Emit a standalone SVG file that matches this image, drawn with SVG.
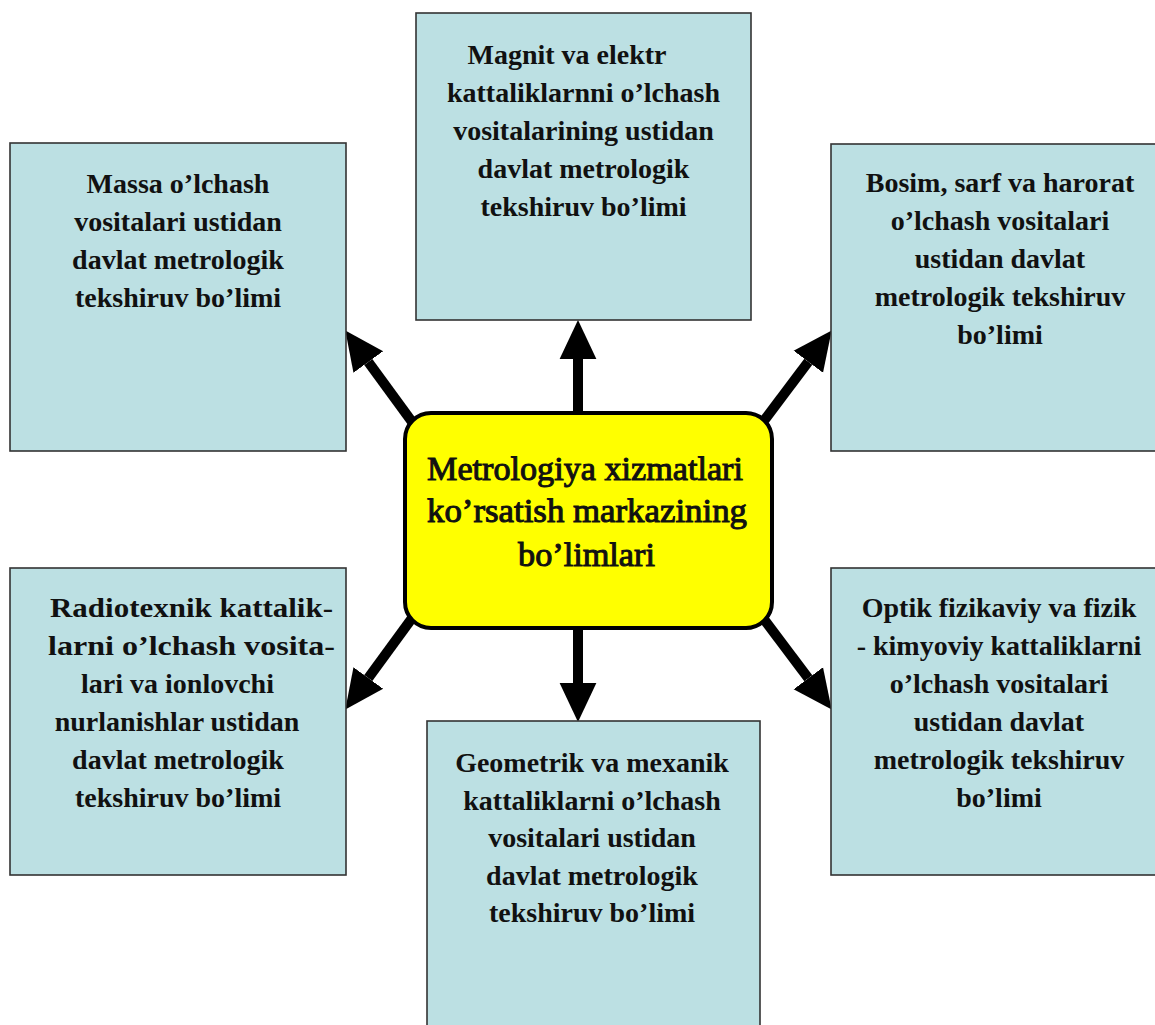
<svg xmlns="http://www.w3.org/2000/svg" width="1155" height="1025" viewBox="0 0 1155 1025">
<style>
.box{fill:#BCE0E3;stroke:#333;stroke-width:1.6}
.bt{font-family:"Liberation Serif","Times New Roman",serif;font-weight:bold;font-size:28px;fill:#111;text-anchor:middle}
.ct{font-family:"Liberation Serif","Times New Roman",serif;font-weight:normal;font-size:33px;fill:#111;stroke:#111;stroke-width:1;text-anchor:middle}
.arr{stroke:#000;stroke-width:10;fill:none;marker-end:url(#ah)}
</style>
<defs>
<marker id="ah" markerUnits="userSpaceOnUse" markerWidth="40" markerHeight="40" viewBox="0 -18 37 36" refX="0" refY="0" orient="auto">
<path d="M0,-17 L36,0 L0,17 z" fill="#000"/>
</marker>
</defs>
<rect width="1155" height="1025" fill="#fff"/>
<g id="connectors">
<line class="arr" x1="578" y1="420" x2="578" y2="359"/>
<line class="arr" x1="578" y1="620" x2="578" y2="683"/>
<line class="arr" x1="418" y1="430" x2="368.3" y2="362"/>
<line class="arr" x1="757" y1="430" x2="808.3" y2="361.7"/>
<line class="arr" x1="418" y1="610" x2="368.3" y2="678"/>
<line class="arr" x1="757" y1="610" x2="808.3" y2="678.3"/>
</g>
<g id="node-massa">
<rect class="box" x="10" y="143" width="336" height="308"/>
<text class="bt"><tspan x="178" y="193">Massa o’lchash</tspan><tspan x="178" y="231">vositalari ustidan</tspan><tspan x="178" y="269">davlat metrologik</tspan><tspan x="178" y="307">tekshiruv bo’limi</tspan></text>
</g>
<g id="node-magnit">
<rect class="box" x="416" y="13" width="335" height="307"/>
<text class="bt"><tspan x="567" y="64">Magnit va elektr</tspan><tspan x="583.5" y="102">kattaliklarnni o’lchash</tspan><tspan x="583.5" y="140">vositalarining ustidan</tspan><tspan x="583.5" y="178">davlat metrologik</tspan><tspan x="583.5" y="216">tekshiruv bo’limi</tspan></text>
</g>
<g id="node-bosim">
<rect class="box" x="831" y="144" width="338" height="307"/>
<text class="bt"><tspan x="1000" y="192">Bosim, sarf va harorat</tspan><tspan x="1000" y="230">o’lchash vositalari</tspan><tspan x="1000" y="268">ustidan davlat</tspan><tspan x="1000" y="306">metrologik tekshiruv</tspan><tspan x="1000" y="344">bo’limi</tspan></text>
</g>
<g id="node-radiotexnik">
<rect class="box" x="10" y="568" width="336" height="307"/>
<text class="bt"><tspan x="191.5" y="617" textLength="283" lengthAdjust="spacingAndGlyphs">Radiotexnik kattalik-</tspan></text>
<text class="bt"><tspan x="191.5" y="655" textLength="287" lengthAdjust="spacingAndGlyphs">larni o’lchash vosita-</tspan></text>
<text class="bt"><tspan x="177.5" y="693">lari va ionlovchi</tspan><tspan x="177" y="731">nurlanishlar ustidan</tspan><tspan x="178" y="769">davlat metrologik</tspan><tspan x="178" y="807">tekshiruv bo’limi</tspan></text>
</g>
<g id="node-geometrik">
<rect class="box" x="427" y="721" width="333" height="320"/>
<text class="bt"><tspan x="592" y="772">Geometrik va mexanik</tspan><tspan x="592" y="810">kattaliklarni o’lchash</tspan><tspan x="592" y="847">vositalari ustidan</tspan><tspan x="592" y="885">davlat metrologik</tspan><tspan x="592" y="922">tekshiruv bo’limi</tspan></text>
</g>
<g id="node-optik">
<rect class="box" x="831" y="568" width="338" height="307"/>
<text class="bt"><tspan x="999" y="617">Optik fizikaviy va fizik</tspan><tspan x="999" y="655">- kimyoviy kattaliklarni</tspan><tspan x="999" y="693">o’lchash vositalari</tspan><tspan x="999" y="731">ustidan davlat</tspan><tspan x="999" y="769">metrologik tekshiruv</tspan><tspan x="999" y="807">bo’limi</tspan></text>
</g>
<g id="node-center">
<rect x="405" y="413" width="367" height="215" rx="26" ry="26" fill="#FFFF00" stroke="#000" stroke-width="4"/>
<text class="ct"><tspan x="585" y="480" textLength="316" lengthAdjust="spacingAndGlyphs">Metrologiya xizmatlari</tspan></text>
<text class="ct"><tspan x="587" y="522" textLength="320" lengthAdjust="spacingAndGlyphs">ko’rsatish markazining</tspan></text>
<text class="ct"><tspan x="586.5" y="566" textLength="137" lengthAdjust="spacingAndGlyphs">bo’limlari</tspan></text>
</g>
</svg>
